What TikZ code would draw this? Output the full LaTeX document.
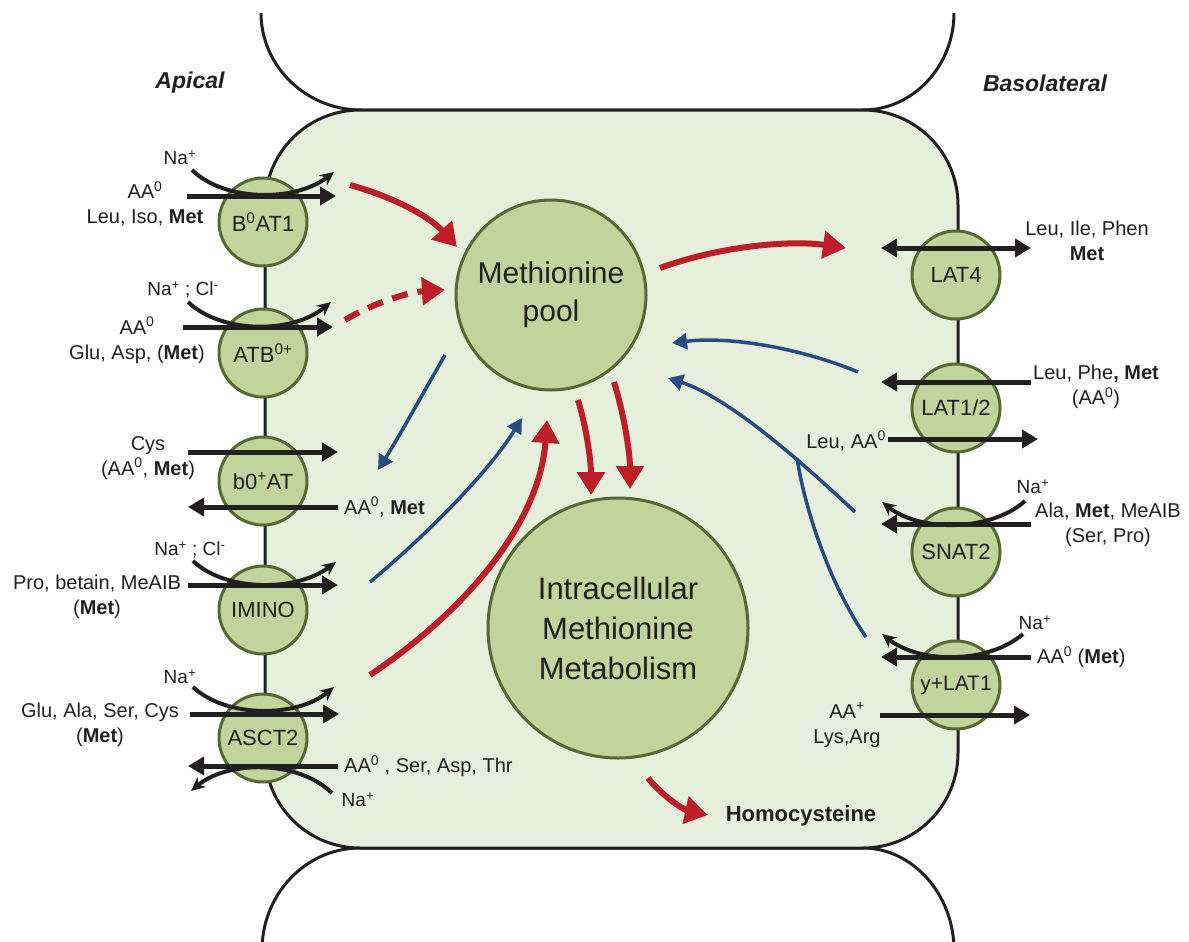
\documentclass[tikz,border=0pt]{standalone}
\usepackage{fontspec}
\setmainfont{Liberation Sans}
\usetikzlibrary{arrows.meta}
\definecolor{cellfill}{RGB}{230,238,220}
\definecolor{circfill}{RGB}{193,212,155}
\definecolor{circline}{RGB}{88,104,52}
\definecolor{myred}{RGB}{190,30,40}
\definecolor{myblue}{RGB}{38,76,132}
\definecolor{ink}{RGB}{35,31,32}
\begin{document}
\begin{tikzpicture}[x=1pt,y=-1pt,text=ink,
  memb/.style={circle,fill=circfill,draw=circline,line width=3pt,minimum size=88pt,inner sep=0pt,font=\fontsize{22}{26}\selectfont},
  big/.style={circle,fill=circfill,draw=circline,line width=3pt,inner sep=0pt,align=center},
  blk/.style={draw=ink,line width=5pt,-{Triangle[length=16pt,width=18pt]}},
  blkboth/.style={draw=ink,line width=5pt,{Triangle[length=16pt,width=18pt]}-{Triangle[length=16pt,width=18pt]}},
  ion/.style={draw=ink,line width=4pt,-{Stealth[length=14pt,width=13pt]}},
  rarr/.style={draw=myred,line width=6pt,-{Triangle[length=23pt,width=27pt]}},
  barr/.style={draw=myblue,line width=3.5pt,-{Triangle[length=15pt,width=16pt]}},
  lab/.style={font=\fontsize{20}{25}\selectfont,align=center,inner sep=0pt},
  nalab/.style={font=\fontsize{19}{23}\selectfont,inner sep=0pt},
  side/.style={font=\fontsize{23}{27}\selectfont\bfseries\itshape,inner sep=0pt}]
\useasboundingbox (0,0) rectangle (1189,942);
\begin{scope}
\clip (0,0) rectangle (1189,942);
% neighbour cells
\draw[draw=ink,line width=3pt] (261,13) .. controls (261,66) and (306,110) .. (361,110) -- (863,110) .. controls (913,110) and (954,66) .. (954,13);
\draw[draw=ink,line width=3pt] (262,950) .. controls (262,895) and (305,848) .. (360,848) -- (863,848) .. controls (913,848) and (954,895) .. (954,950);
\end{scope}
% main cell
\draw[draw=ink,line width=3pt,fill=cellfill,rounded corners=95pt] (265,110) rectangle (958,848);

\node[side] (apical) at (190,83) {Apical};
\node[side] (baso) at (1045,83) {Basolateral};

% central pools
\node[big,minimum size=190pt,font=\fontsize{30}{38}\selectfont] (pool) at (551,295) {Methionine\\pool};
\node[big,minimum size=260pt,font=\fontsize{31}{40}\selectfont] (metab) at (618,628) {Intracellular\\Methionine\\Metabolism};
\node[font=\fontsize{22}{26}\selectfont\bfseries,inner sep=0pt] (hcy) at (801,816) {Homocysteine};

% membrane transporters
\node[memb] (b0at1) at (263,222) {B\textsuperscript{0}AT1};
\node[memb] (atb) at (263,353) {ATB\textsuperscript{0+}};
\node[memb] (b0at) at (263,481) {b0\textsuperscript{+}AT};
\node[memb] (imino) at (263,610) {IMINO};
\node[memb] (asct2) at (263,738) {ASCT2};
\node[memb] (lat4) at (956,275) {LAT4};
\node[memb] (lat12) at (956,408) {LAT1/2};
\node[memb] (snat2) at (956,552) {SNAT2};
\node[memb,font=\fontsize{21}{26}\selectfont] (ylat1) at (956,685) {y+LAT1};

% B0AT1
\draw[ion] (192,170) .. controls (225,202) and (295,202) .. (334,172);
\draw[blk] (187,196) -- (336,196);
\node[nalab] (na1) at (180,158) {Na\textsuperscript{+}};
\node[lab] (t1) at (145,204) {AA\textsuperscript{0}\\Leu, Iso, \textbf{Met}};
% ATB0+
\draw[ion] (188,302) .. controls (222,334) and (292,334) .. (331,302);
\draw[blk] (183,327) -- (333,327);
\node[nalab] (na2) at (183,290) {Na\textsuperscript{+} ; Cl\textsuperscript{-}};
\node[lab] (t2) at (137,340) {AA\textsuperscript{0}\\Glu, Asp, (\textbf{Met})};
% b0+AT
\draw[blk] (188,452) -- (338,452);
\draw[blk] (338,507) -- (188,507);
\node[lab] (t3) at (148,458) {Cys\\(AA\textsuperscript{0}, \textbf{Met})};
\node[lab,anchor=west] (t3b) at (344,507) {AA\textsuperscript{0}, \textbf{Met}};
% IMINO
\draw[ion] (193,561) .. controls (226,592) and (296,592) .. (336,562);
\draw[blk] (188,585) -- (338,585);
\node[nalab] (na3) at (190,550) {Na\textsuperscript{+} ; Cl\textsuperscript{-}};
\node[lab] (t4) at (97,597) {Pro, betain, MeAIB\\(\textbf{Met})};
% ASCT2
\draw[ion] (193,687) .. controls (226,718) and (296,718) .. (334,687);
\draw[blk] (190,714) -- (339,714);
\node[nalab] (na4) at (180,677) {Na\textsuperscript{+}};
\node[lab] (t5) at (100,725) {Glu, Ala, Ser, Cys\\(\textbf{Met})};
\draw[blk] (338,766) -- (188,766);
\node[lab,anchor=west] (t5b) at (344,766) {AA\textsuperscript{0} , Ser, Asp, Thr};
\draw[ion] (332,793) .. controls (298,760) and (228,760) .. (191,791);
\node[nalab] (na5) at (358,800) {Na\textsuperscript{+}};

% LAT4
\draw[blkboth] (881,248) -- (1031,248);
\node[lab] (t6) at (1087,241) {Leu, Ile, Phen\\\textbf{Met}};
% LAT1/2
\draw[blk] (1031,382) -- (881,382);
\node[lab] (t7) at (1096,387) {Leu, Phe\textbf{, Met}\\(AA\textsuperscript{0})};
\draw[blk] (888,439) -- (1038,439);
\node[lab,anchor=east] (t7b) at (886,441) {Leu, AA\textsuperscript{0}};
% SNAT2
\draw[ion] (1025,501) .. controls (990,532) and (920,532) .. (882,502);
\draw[blk] (1031,524) -- (881,524);
\node[nalab] (na6) at (1033,487) {Na\textsuperscript{+}};
\node[lab] (t8) at (1108,525) {Ala, \textbf{Met}, MeAIB\\(Ser, Pro)};
% y+LAT1
\draw[ion] (1023,634) .. controls (988,664) and (920,664) .. (882,634);
\draw[blk] (1031,657) -- (881,657);
\node[nalab] (na7) at (1035,623) {Na\textsuperscript{+}};
\node[lab,anchor=west] (t9) at (1037,657) {AA\textsuperscript{0} (\textbf{Met})};
\draw[blk] (880,715) -- (1030,715);
\node[lab] (t9b) at (847,725) {AA\textsuperscript{+}\\Lys,Arg};

% red arrows
\draw[rarr] (350,185) .. controls (390,196) and (428,215) .. (457,247);
\draw[rarr,dash pattern=on 16pt off 10pt] (345,320) .. controls (375,302) and (410,292) .. (445,290);
\draw[rarr] (660,268) .. controls (720,246) and (790,240) .. (846,248);
\draw[rarr] (370,675) .. controls (470,608) and (540,520) .. (547,420);
\draw[rarr] (578,400) .. controls (587,430) and (591,462) .. (591,495);
\draw[rarr] (614,382) .. controls (625,418) and (630,455) .. (630,489);
\draw[rarr] (648,778) .. controls (664,798) and (685,810) .. (708,815);

% blue arrows
\draw[barr] (445,355) .. controls (422,395) and (400,435) .. (378,470);
\draw[barr] (370,582) .. controls (430,532) and (490,470) .. (522,418);
\draw[barr] (858,372) .. controls (800,348) and (730,336) .. (672,343);
\draw[barr] (855,512) .. controls (805,465) and (730,398) .. (668,378);
\draw[draw=myblue,line width=3.5pt] (866,637) .. controls (830,585) and (805,510) .. (797,458);
\end{tikzpicture}
\end{document}
